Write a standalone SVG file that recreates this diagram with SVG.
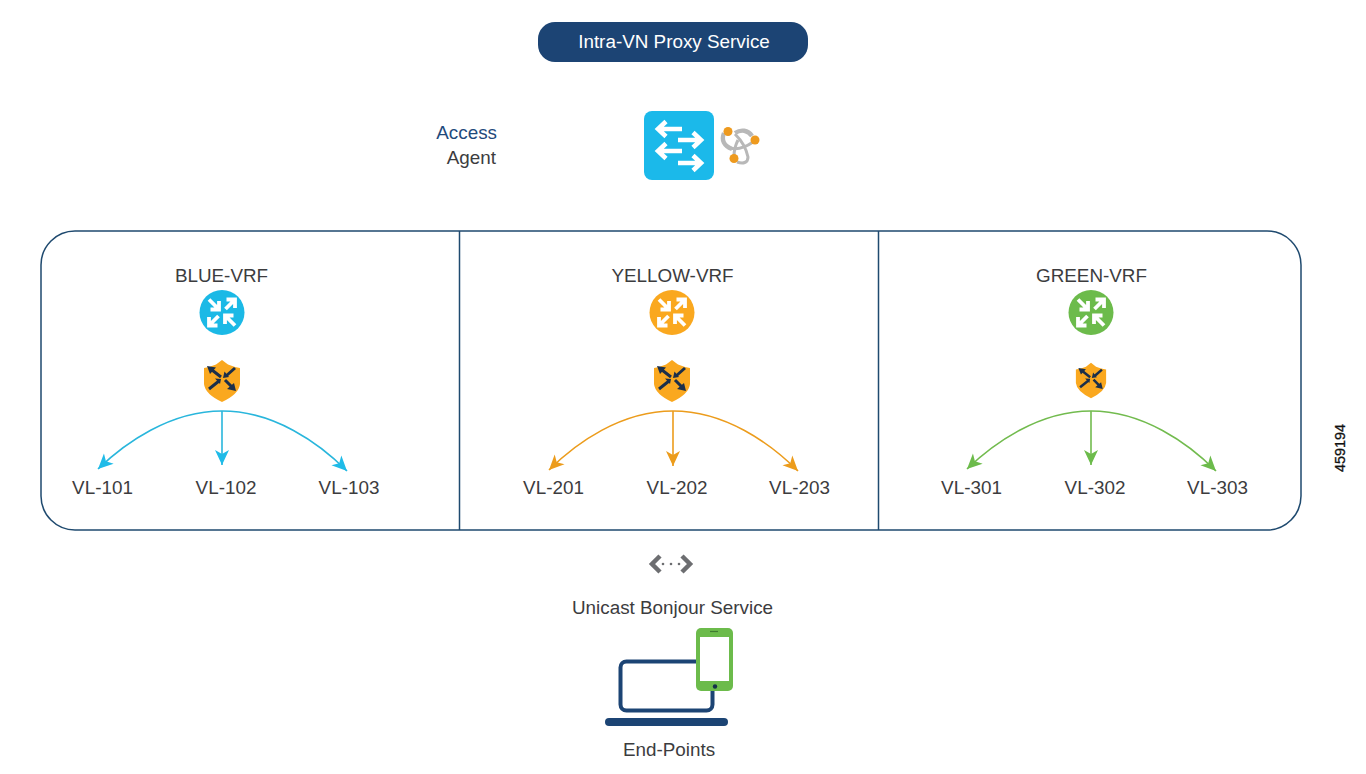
<svg xmlns="http://www.w3.org/2000/svg" width="1366" height="774" viewBox="0 0 1366 774">
<style>
text{font-family:"Liberation Sans",Arial,sans-serif;font-size:18.850px;fill:#3c3c3e}
.m{text-anchor:middle}
.nav{fill:#1f4a7c}
.wa{fill:none;stroke:#fff;stroke-width:3.800}
.da{fill:none;stroke:#1b2f4b;stroke-width:3}
.c{fill:none;stroke-width:1.600}
.b{stroke:#29b6dc}
.y{stroke:#ec9c1c}
.g{stroke:#72bb4e}
</style>
<defs>
<marker id="ab" markerUnits="userSpaceOnUse" markerWidth="18" markerHeight="18" refX="15" refY="8" orient="auto" viewBox="0 0 18 16"><path d="M0,1 L15,8 L0,15 L4,8Z" fill="#1fbbe8"/></marker>
<marker id="ay" markerUnits="userSpaceOnUse" markerWidth="18" markerHeight="18" refX="15" refY="8" orient="auto" viewBox="0 0 18 16"><path d="M0,1 L15,8 L0,15 L4,8Z" fill="#ec9c1c"/></marker>
<marker id="ag" markerUnits="userSpaceOnUse" markerWidth="18" markerHeight="18" refX="15" refY="8" orient="auto" viewBox="0 0 18 16"><path d="M0,1 L15,8 L0,15 L4,8Z" fill="#6cbb4b"/></marker>
<g id="router">
<path class="wa" d="M-13,-13 L-3.500,-3.500 M-3,-11.500 V-3 H-11.500 M3.500,-3.500 L12.500,-12.500 M4.500,-13 H13 V-4.500 M-3.500,3.500 L-12.500,12.500 M-13,4.500 V13 H-4.500 M13,13 L3.500,3.500 M3,11.500 V3 H11.500"/>
</g>
<g id="shield">
<path d="M0,-21 L6,-16.500 Q12,-14 18,-13 V3 Q17,13 0,21 Q-17,13 -18,3 V-13 Q-12,-14 -6,-16.500Z" fill="#faa81f"/>
<path class="da" d="M-10,-11 L-1,-4 M13,-13 L4,-5 M10,6 L3,-1 M-13,8 L-3,0"/>
<path d="M-15,-15 L-6,-13.500 L-12,-7Z M14,10 L5,8 L12,2Z M1,-3 L2.500,-9.500 L7,-4Z M-1,-2 L-7,-2.500 L-2,3Z" fill="#1b2f4b"/>
</g>
</defs>

<g id="connectors">
<path class="c b" d="M222,411 C170,411 125,443 98,469" marker-end="url(#ab)"/>
<path class="c b" d="M222,411 V465" marker-end="url(#ab)"/>
<path class="c b" d="M222,411 C274,411 319,443 347,471" marker-end="url(#ab)"/>
<path class="c y" d="M673,411 C621,411 576,443 549,470" marker-end="url(#ay)"/>
<path class="c y" d="M673,411 V466" marker-end="url(#ay)"/>
<path class="c y" d="M673,411 C725,411 770,443 798,471" marker-end="url(#ay)"/>
<path class="c g" d="M1091,411 C1039,411 994,443 967,469" marker-end="url(#ag)"/>
<path class="c g" d="M1091,411 V465" marker-end="url(#ag)"/>
<path class="c g" d="M1091,411 C1143,411 1188,443 1216,471" marker-end="url(#ag)"/>
</g>

<g id="title">
<rect x="538" y="22" width="270" height="40" rx="17" fill="#1c4474"/>
<text class="m" x="674" y="47.500" style="fill:#fff">Intra-VN Proxy Service</text>
</g>

<g id="access-agent">
<text class="nav" x="497" y="139" text-anchor="end">Access</text>
<text x="496" y="164" text-anchor="end">Agent</text>
</g>

<g id="switch">
<rect x="644" y="111" width="70" height="69" rx="8" fill="#1bb9ea"/>
<g class="wa" style="stroke-width:4.600">
<path d="M682,129 H659 M666,121.500 L658,129 L666,136.500"/>
<path d="M678,140 H700 M693,132.500 L701,140 L693,147.500"/>
<path d="M682,151 H659 M666,143.500 L658,151 L666,158.500"/>
<path d="M678,163 H700 M693,155.500 L701,163 L693,170.500"/>
</g>
</g>

<g id="bonjour">
<g fill="none" stroke="#b8b8b8" stroke-width="3">
<path d="M735,134 C739,138 746,147 748,157 C748,163 743,164 737,162"/>
<path d="M738,140 C735,146 734,150 734,156"/>
<path d="M730,148 C738,150 746,147 753,142"/>
</g>
<g fill="none" stroke="#b8b8b8" stroke-width="4.400">
<path d="M724,133 C721,140 724,146 732,149"/>
<path d="M735,133 C741,129 748,130 752,136"/>
</g>
<circle cx="728" cy="131.500" r="4.500" fill="#ee9a1e"/>
<circle cx="755" cy="140" r="4.500" fill="#ee9a1e"/>
<circle cx="734" cy="158.500" r="4.500" fill="#ee9a1e"/>
</g>

<g id="vrf-panel">
<rect x="41" y="231" width="1260" height="299" rx="34" fill="none" stroke="#1f4a6f" stroke-width="1.500"/>
<path d="M459.500,231 V530 M878.500,231 V530" fill="none" stroke="#1f4a6f" stroke-width="1.500"/>
</g>

<g id="blue-vrf">
<text class="m" x="221.500" y="282">BLUE-VRF</text>
<circle cx="222" cy="312.500" r="22.500" fill="#1bb9e6"/>
<use href="#router" x="222" y="312.500"/>
<use href="#shield" x="222" y="381"/>
<text class="m" x="102.500" y="494">VL-101</text>
<text class="m" x="226" y="494">VL-102</text>
<text class="m" x="349" y="494">VL-103</text>
</g>

<g id="yellow-vrf">
<text class="m" x="672.500" y="282">YELLOW-VRF</text>
<circle cx="672" cy="312.500" r="22.500" fill="#faa81f"/>
<use href="#router" x="672" y="312.500"/>
<use href="#shield" x="672" y="381"/>
<text class="m" x="553.500" y="494">VL-201</text>
<text class="m" x="677" y="494">VL-202</text>
<text class="m" x="799.500" y="494">VL-203</text>
</g>

<g id="green-vrf">
<text class="m" x="1091.500" y="282">GREEN-VRF</text>
<circle cx="1091" cy="312.500" r="22.500" fill="#6cbb4b"/>
<use href="#router" x="1091" y="312.500"/>
<use href="#shield" transform="translate(1091 380.500) scale(.84)"/>
<text class="m" x="971.500" y="494">VL-301</text>
<text class="m" x="1095" y="494">VL-302</text>
<text class="m" x="1217.500" y="494">VL-303</text>
</g>

<g id="bonjour-service">
<path d="M660,556 L652,564 L660,572 M682,556 L690,564 L682,572" fill="none" stroke="#6d6e71" stroke-width="4.500"/>
<circle cx="663" cy="564" r="1.300" fill="#6d6e71"/>
<circle cx="671" cy="564" r="1.300" fill="#6d6e71"/>
<circle cx="679" cy="564" r="1.300" fill="#6d6e71"/>
<text class="m" x="672.500" y="614">Unicast Bonjour Service</text>
</g>

<g id="end-points">
<rect x="620.500" y="661.500" width="92" height="49" rx="6" fill="none" stroke="#1c4474" stroke-width="4"/>
<rect x="605" y="718" width="123" height="8" rx="4" fill="#1c4474"/>
<rect x="696" y="628" width="37" height="63" rx="5" fill="#6cbb4b"/>
<rect x="700" y="637" width="29" height="44" fill="#fff"/>
<path d="M710,631.500 H718" stroke="#3f7a30" stroke-width="1.200"/>
<circle cx="715" cy="686.500" r="2.200" fill="#14304a"/>
<text class="m" x="669" y="756">End-Points</text>
</g>

<text id="figure-number" transform="translate(1345 448) rotate(-90)" class="m" style="font-size:14.400px;fill:#111;stroke:#111;stroke-width:.3">459194</text>
</svg>
